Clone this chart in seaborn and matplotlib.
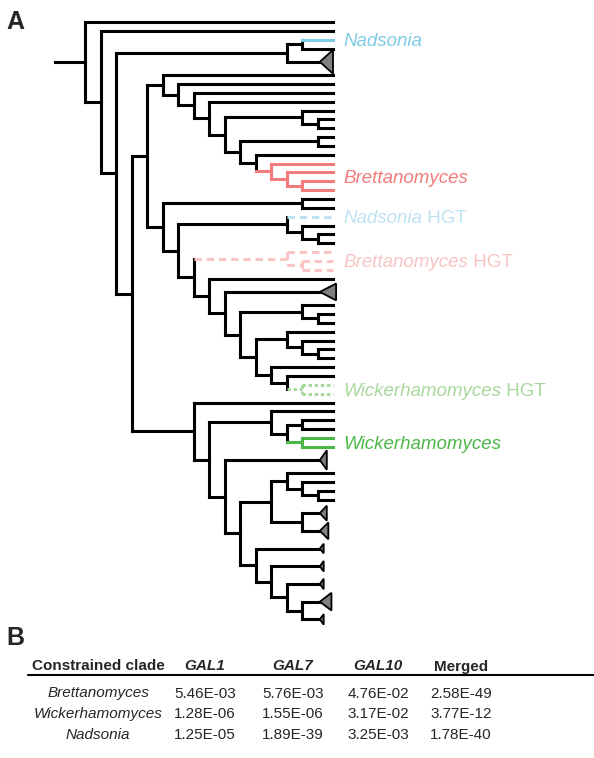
import matplotlib
matplotlib.use("Agg")
import matplotlib.pyplot as plt
import seaborn as sns
import pandas as pd

# ---------------- data ----------------
# cladogram: node -> (horizontal level, clade group or None, children)
# leaf names: "k" plain tip, "nad"/"nadh" coloured tips, "T.." collapsed clades
TREE_NODES = {
    "N0": (0, None, ["k", "N1"]),
    "N1": (1, None, ["k", "N2"]),
    "N2": (2, None, ["A13", "N3"]),
    "A13": (13, None, ["A14", "T1"]),
    "A14": (14, None, ["nad", "k"]),
    "N3": (3, None, ["N4", "W7"]),
    "N4": (4, None, ["U5", "V5"]),
    "U5": (5, None, ["k", "U6"]),
    "U6": (6, None, ["k", "U7"]),
    "U7": (7, None, ["k", "U8"]),
    "U8": (8, None, ["k", "U9"]),
    "U9": (9, None, ["U14", "U10"]),
    "U14": (14, None, ["k", "U15"]),
    "U15": (15, None, ["k", "k"]),
    "U10": (10, None, ["U15b", "U11"]),
    "U15b": (15, None, ["k", "k"]),
    "U11": (11, None, ["k", "R12"]),
    "R12": (12, "bre", ["k", "R13"]),
    "R13": (13, None, ["k", "R14"]),
    "R14": (14, None, ["k", "k"]),
    "V5": (5, None, ["V14", "V6"]),
    "V14": (14, None, ["k", "k"]),
    "V6": (6, None, ["H13", "V7"]),
    "H13": (13, None, ["nadh", "H14"]),
    "H14": (14, None, ["k", "H15"]),
    "H15": (15, None, ["k", "k"]),
    "V7": (7, None, ["P13", "V8"]),
    "P13": (13, "breh", ["k", "P14"]),
    "P14": (14, None, ["k", "k"]),
    "V8": (8, None, ["k", "V9"]),
    "V9": (9, None, ["T2", "V10"]),
    "V10": (10, None, ["E14", "V11"]),
    "E14": (14, None, ["k", "E15"]),
    "E15": (15, None, ["k", "k"]),
    "V11": (11, None, ["F13", "V12"]),
    "F13": (13, None, ["k", "F14"]),
    "F14": (14, None, ["k", "F15"]),
    "F15": (15, None, ["k", "k"]),
    "V12": (12, None, ["k", "G13"]),
    "G13": (13, None, ["k", "G14"]),
    "G14": (14, "wickh", ["k", "k"]),
    "W7": (7, None, ["k", "W8"]),
    "W8": (8, None, ["W12", "W9"]),
    "W12": (12, None, ["k", "W13"]),
    "W13": (13, None, ["W14", "Wk14"]),
    "W14": (14, None, ["k", "k"]),
    "Wk14": (14, "wick", ["k", "k"]),
    "W9": (9, None, ["T3", "W10"]),
    "W10": (10, None, ["X12", "X11"]),
    "X12": (12, None, ["X13", "X14"]),
    "X13": (13, None, ["k", "X14b"]),
    "X14b": (14, None, ["k", "X15"]),
    "X15": (15, None, ["k", "k"]),
    "X14": (14, None, ["T4", "T5"]),
    "X11": (11, None, ["T6", "Y12"]),
    "Y12": (12, None, ["T7", "Y13"]),
    "Y13": (13, None, ["T8", "Y14"]),
    "Y14": (14, None, ["T9", "T10"]),
}
ROOT = "N0"
LEAF_GROUPS = {"nad": "nad", "nadh": "nadh"}

LABEL_GROUPS = ["nad", "bre", "nadh", "breh", "wickh", "wick"]
LABEL_NAMES = ["Nadsonia", "Brettanomyces", "Nadsonia", "Brettanomyces",
               "Wickerhamomyces", "Wickerhamomyces"]
LABEL_SUFFIX = ["", "", " HGT", " HGT", " HGT", ""]

TABLE_HEADER = ["Constrained clade", "GAL1", "GAL7", "GAL10", "Merged"]
CLADES = ["Brettanomyces", "Wickerhamomyces", "Nadsonia"]
GAL1 = ["5.46E-03", "1.28E-06", "1.25E-05"]
GAL7 = ["5.76E-03", "1.55E-06", "1.89E-39"]
GAL10 = ["4.76E-02", "3.17E-02", "3.25E-03"]
MERGED = ["2.58E-49", "3.77E-12", "1.78E-40"]

# ---------------- styles ----------------
GROUP_COLORS = {"k": "#000000", "nad": "#7ecbe5", "bre": "#f27b7b", "wick": "#4db848",
                "nadh": "#bde3f2", "breh": "#f8c4c4", "wickh": "#a9d89c"}
GROUP_DASH = {"k": "solid", "nad": "solid", "bre": "solid", "wick": "solid",
              "nadh": "dash", "breh": "dash", "wickh": "dot"}
DASHES = {"solid": "", "dash": (2.4, 1.6), "dot": (1.1, 0.9)}
# collapsed clades: (slots occupied, half height in slots, right-edge level)
TRI_STYLE = {"T1": (2, 1.35, 16.0), "T2": (2, 0.95, 16.2), "T3": (2, 1.1, 15.6),
             "T4": (2, 0.85, 15.6), "T5": (2, 0.95, 15.7), "T6": (2, 0.55, 15.4),
             "T7": (2, 0.6, 15.4), "T8": (2, 0.6, 15.4), "T9": (2, 1.0, 15.9),
             "T10": (2, 0.6, 15.4)}
TRI_TIP = 15.15
X0, DX, TIP_LEVEL = 85.0, 15.5, 16.0
Y0, DY = 22.0, 8.85
LW = 2.2

W, H = 594, 758
sns.set_theme(style="white")
plt.rcParams["font.family"] = ["Liberation Sans", "DejaVu Sans"]

fig = plt.figure(figsize=(W / 100, H / 100), dpi=100)
ax = fig.add_axes([0, 0, 1, 1])
ax.set_xlim(0, W)
ax.set_ylim(H, 0)
ax.axis("off")

def xl(level):
    return X0 + DX * level

# ---- layout ----
counter = [0.0]
segs = []
tris = []
leaf_y = {}

def layout(name, group, parent_level):
    if name in TREE_NODES:
        level, g, children = TREE_NODES[name]
        g = g or group
        ys = [layout(c, g, level) for c in children]
        y = (ys[0] + ys[-1]) / 2
        segs.append((xl(level), ys[0], xl(level), ys[-1], g))
        if parent_level is not None:
            segs.append((xl(parent_level), y, xl(level), y, g))
        return y
    g = LEAF_GROUPS.get(name, group)
    if name in TRI_STYLE:
        n, half, right = TRI_STYLE[name]
        y = Y0 + DY * (counter[0] + (n - 1) / 2)
        counter[0] += n
        tris.append((y, half, right))
        segs.append((xl(parent_level), y, xl(TRI_TIP), y, g))
        return y
    y = Y0 + DY * counter[0]
    counter[0] += 1
    leaf_y.setdefault(g, []).append(y)
    segs.append((xl(parent_level), y, xl(TIP_LEVEL), y, g))
    return y

root_y = layout(ROOT, "k", None)
segs.append((xl(-1.95), root_y, xl(0), root_y, "k"))

rows = []
for i, (xa, ya, xb, yb, g) in enumerate(segs):
    rows.append({"seg": i, "x": xa, "y": ya, "grp": g, "sty": GROUP_DASH[g]})
    rows.append({"seg": i, "x": xb, "y": yb, "grp": g, "sty": GROUP_DASH[g]})
df = pd.DataFrame(rows)

sns.lineplot(data=df, x="x", y="y", hue="grp", style="sty", units="seg",
             estimator=None, sort=False, palette=GROUP_COLORS, dashes=DASHES,
             linewidth=LW, legend=False, ax=ax, solid_capstyle="projecting")

for y, half, right in tris:
    ax.fill([xl(TRI_TIP), xl(right), xl(right)],
            [y, y - half * DY, y + half * DY],
            facecolor="#808080", edgecolor="black", lw=1.3, zorder=3)

# ---- clade labels ----
fig.canvas.draw()
renderer = fig.canvas.get_renderer()
for g, name, suf in zip(LABEL_GROUPS, LABEL_NAMES, LABEL_SUFFIX):
    ys = leaf_y[g]
    y = (min(ys) + max(ys)) / 2
    t = ax.text(xl(TIP_LEVEL) + 10, y, name, style="italic", fontsize=13.5,
                color=GROUP_COLORS[g], va="center_baseline", ha="left")
    if suf:
        bb = t.get_window_extent(renderer)
        x_end = ax.transData.inverted().transform((bb.x1, bb.y0))[0]
        ax.text(x_end, y, suf, fontsize=13.5, color=GROUP_COLORS[g],
                va="center_baseline", ha="left")

# ---- panel letters ----
ax.text(15, 22, "A", fontsize=18, fontweight="bold", ha="center", va="center")
TABLE_TOP = 665
ax.text(15, TABLE_TOP - 27, "B", fontsize=18, fontweight="bold", ha="center", va="center")

# ---- table ----
col_x = [98, 205, 293, 378, 461]
fs = 11
for j, h in enumerate(TABLE_HEADER):
    ax.text(col_x[j], TABLE_TOP, h, fontsize=fs, fontweight="bold",
            style="italic" if h.startswith("GAL") else "normal",
            ha="center", va="center_baseline")
ax.plot([28, W], [TABLE_TOP + 10, TABLE_TOP + 10], color="black", lw=1.5)
for i, clade in enumerate(CLADES):
    y = TABLE_TOP + 27 + 20.7 * i
    vals = [clade, GAL1[i], GAL7[i], GAL10[i], MERGED[i]]
    for j, v in enumerate(vals):
        ax.text(col_x[j], y, v, fontsize=fs, style="italic" if j == 0 else "normal",
                ha="center", va="center_baseline")

fig.savefig("out.png", dpi=100)
